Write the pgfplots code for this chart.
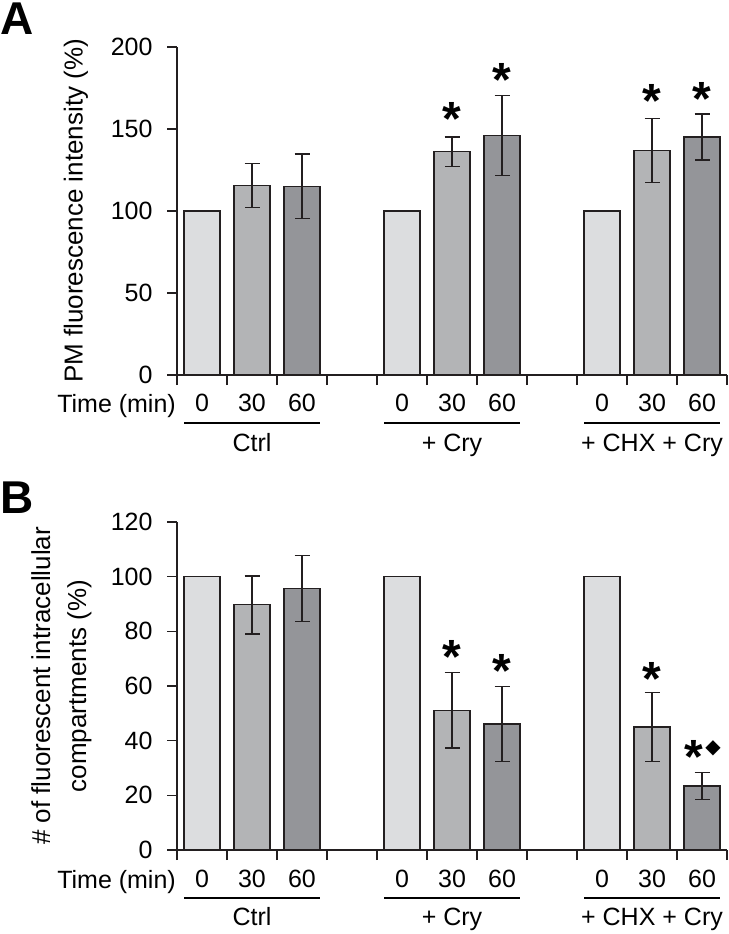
\documentclass[border=0pt]{standalone}
\usepackage{pgfplots}
\pgfplotsset{compat=1.18}
\usepackage{pgfplotstable}
\usepackage{fontspec}
\setmainfont{Liberation Sans}
\newfontfamily\dejavu{DejaVu Sans}
\definecolor{c0}{HTML}{DCDDDF}
\definecolor{c1}{HTML}{B3B4B6}
\definecolor{c2}{HTML}{949599}
\definecolor{edge}{HTML}{231F20}

% Panel A data: x y err
\pgfplotstableread{
x y e
0 100 0
4 100 0
8 100 0
}\Azero
\pgfplotstableread{
x y e
1 115.5 13.5
5 136.2 9.0
9 137.0 19.5
}\Athirty
\pgfplotstableread{
x y e
2 115.0 19.7
6 146.1 24.4
10 145.1 14.0
}\Asixty
\pgfplotstableread{
x y
5 162.8
6 186.0
9 173.4
10 175.0
}\Astar
% Panel B data
\pgfplotstableread{
x y e
0 100 0
4 100 0
8 100 0
}\Bzero
\pgfplotstableread{
x y e
1 89.7 10.6
5 51.1 13.8
9 45.0 12.7
}\Bthirty
\pgfplotstableread{
x y e
2 95.7 12.0
6 46.1 13.8
10 23.4 5.0
}\Bsixty
\pgfplotstableread{
x y
5 74.4
6 69.3
9 66.5
9.84 37.8
}\Bstar
\pgfplotstableread{
x y
10.22 37.8
}\Bdiamond

\newcommand{\lbl}{\fontsize{25}{30}\selectfont}

\pgfplotsset{
  panel/.style={
    scale only axis, width=550pt, height=328pt,
    xmin=-0.5, xmax=10.5, ymin=0,
    clip=false,
    axis x line*=bottom, axis y line*=left,
    axis line style={line width=1.3pt, edge},
    tick align=outside,
    major tick length=10pt, minor tick length=10pt,
    xtick={0,1,2,4,5,6,8,9,10},
    xticklabels={0,30,60,0,30,60,0,30,60},
    minor xtick={-0.5,0.5,1.5,2.5,3.5,4.5,5.5,6.5,7.5,8.5,9.5,10.5},
    major x tick style={draw=none},
    minor x tick style={line width=1.3pt, edge},
    ytick style={line width=1.3pt, edge},
    /pgf/number format/assume math mode=true,
    tick label style={font=\lbl, text=black},
    yticklabel style={xshift=-11pt},
    xticklabel style={yshift=-6pt},
    label style={font=\fontsize{26}{36}\selectfont, align=center},
  },
  barA/.style={ybar, bar width=36pt, bar shift=0pt, draw=edge, line width=1.2pt,
    error bars/y dir=both, error bars/y explicit,
    error bars/error bar style={line width=1.4pt, edge},
    error bars/error mark options={rotate=90, line width=1.4pt, mark size=7.5pt, edge}},
  star/.style={draw=none, mark=none,
    nodes near coords={\smash{\raisebox{-27pt}{\fontsize{48}{48}\selectfont\bfseries *}}},
    every node near coord/.append style={anchor=center, inner sep=0pt, text=black}},
}

\begin{document}
\begin{tikzpicture}
% ---------------- Panel A ----------------
\begin{axis}[panel, at={(177pt,-375pt)}, anchor=south west,
  ymax=200, ytick={0,50,100,150,200},
  ylabel={PM fluorescence intensity (\%)},
  ylabel style={at={([xshift=-101pt]rel axis cs:0,0.5)}, anchor=center}]
\addplot[fill=c0, barA] table[x=x, y=y, y error=e] {\Azero};
\addplot[fill=c1, barA] table[x=x, y=y, y error=e] {\Athirty};
\addplot[fill=c2, barA] table[x=x, y=y, y error=e] {\Asixty};
\addplot[star] table[x=x, y=y] {\Astar};
\node[anchor=base east, inner sep=0pt, font=\lbl] at ([yshift=-37pt,xshift=-1pt]axis cs:-0.5,0) {Time (min)};
\draw[line width=2pt, black] ([yshift=-48pt]axis cs:-0.36,0) -- ([yshift=-48pt]axis cs:2.36,0);
\draw[line width=2pt, black] ([yshift=-48pt]axis cs:3.64,0) -- ([yshift=-48pt]axis cs:6.36,0);
\draw[line width=2pt, black] ([yshift=-48pt]axis cs:7.64,0) -- ([yshift=-48pt]axis cs:10.36,0);
\node[anchor=base, inner sep=0pt, font=\lbl] at ([yshift=-76pt]axis cs:1,0) {Ctrl};
\node[anchor=base, inner sep=0pt, font=\lbl] at ([yshift=-76pt]axis cs:5,0) {+ Cry};
\node[anchor=base, inner sep=0pt, font=\lbl] at ([yshift=-76pt]axis cs:9,0) {+ CHX + Cry};
\end{axis}
% ---------------- Panel B ----------------
\begin{axis}[panel, at={(177pt,-850pt)}, anchor=south west,
  ymax=120, ytick={0,20,40,60,80,100,120},
  ylabel={\# of fluorescent intracellular\\compartments (\%)},
  ylabel style={at={([xshift=-115.5pt]rel axis cs:0,0.5)}, anchor=center}]
\addplot[fill=c0, barA] table[x=x, y=y, y error=e] {\Bzero};
\addplot[fill=c1, barA] table[x=x, y=y, y error=e] {\Bthirty};
\addplot[fill=c2, barA] table[x=x, y=y, y error=e] {\Bsixty};
\addplot[star] table[x=x, y=y] {\Bstar};
\addplot[draw=none, mark=none,
  nodes near coords={\smash{\raisebox{-7pt}{\dejavu\fontsize{20}{20}\selectfont ◆}}},
  every node near coord/.append style={anchor=center, inner sep=0pt, text=black}]
  table[x=x, y=y] {\Bdiamond};
\node[anchor=base east, inner sep=0pt, font=\lbl] at ([yshift=-38pt,xshift=-1pt]axis cs:-0.5,0) {Time (min)};
\draw[line width=2pt, black] ([yshift=-48pt]axis cs:-0.36,0) -- ([yshift=-48pt]axis cs:2.36,0);
\draw[line width=2pt, black] ([yshift=-48pt]axis cs:3.64,0) -- ([yshift=-48pt]axis cs:6.36,0);
\draw[line width=2pt, black] ([yshift=-48pt]axis cs:7.64,0) -- ([yshift=-48pt]axis cs:10.36,0);
\node[anchor=base, inner sep=0pt, font=\lbl] at ([yshift=-75pt]axis cs:1,0) {Ctrl};
\node[anchor=base, inner sep=0pt, font=\lbl] at ([yshift=-75pt]axis cs:5,0) {+ Cry};
\node[anchor=base, inner sep=0pt, font=\lbl] at ([yshift=-75pt]axis cs:9,0) {+ CHX + Cry};
\end{axis}
% panel letters
\node[anchor=base west, inner sep=0pt, font=\fontsize{46}{46}\selectfont\bfseries] at (0pt,-35pt) {A};
\node[anchor=base west, inner sep=0pt, font=\fontsize{46}{46}\selectfont\bfseries] at (0pt,-513pt) {B};
\pgfresetboundingbox
\path[use as bounding box] (0pt,0pt) rectangle (728pt,-934pt);
\end{tikzpicture}
\end{document}
